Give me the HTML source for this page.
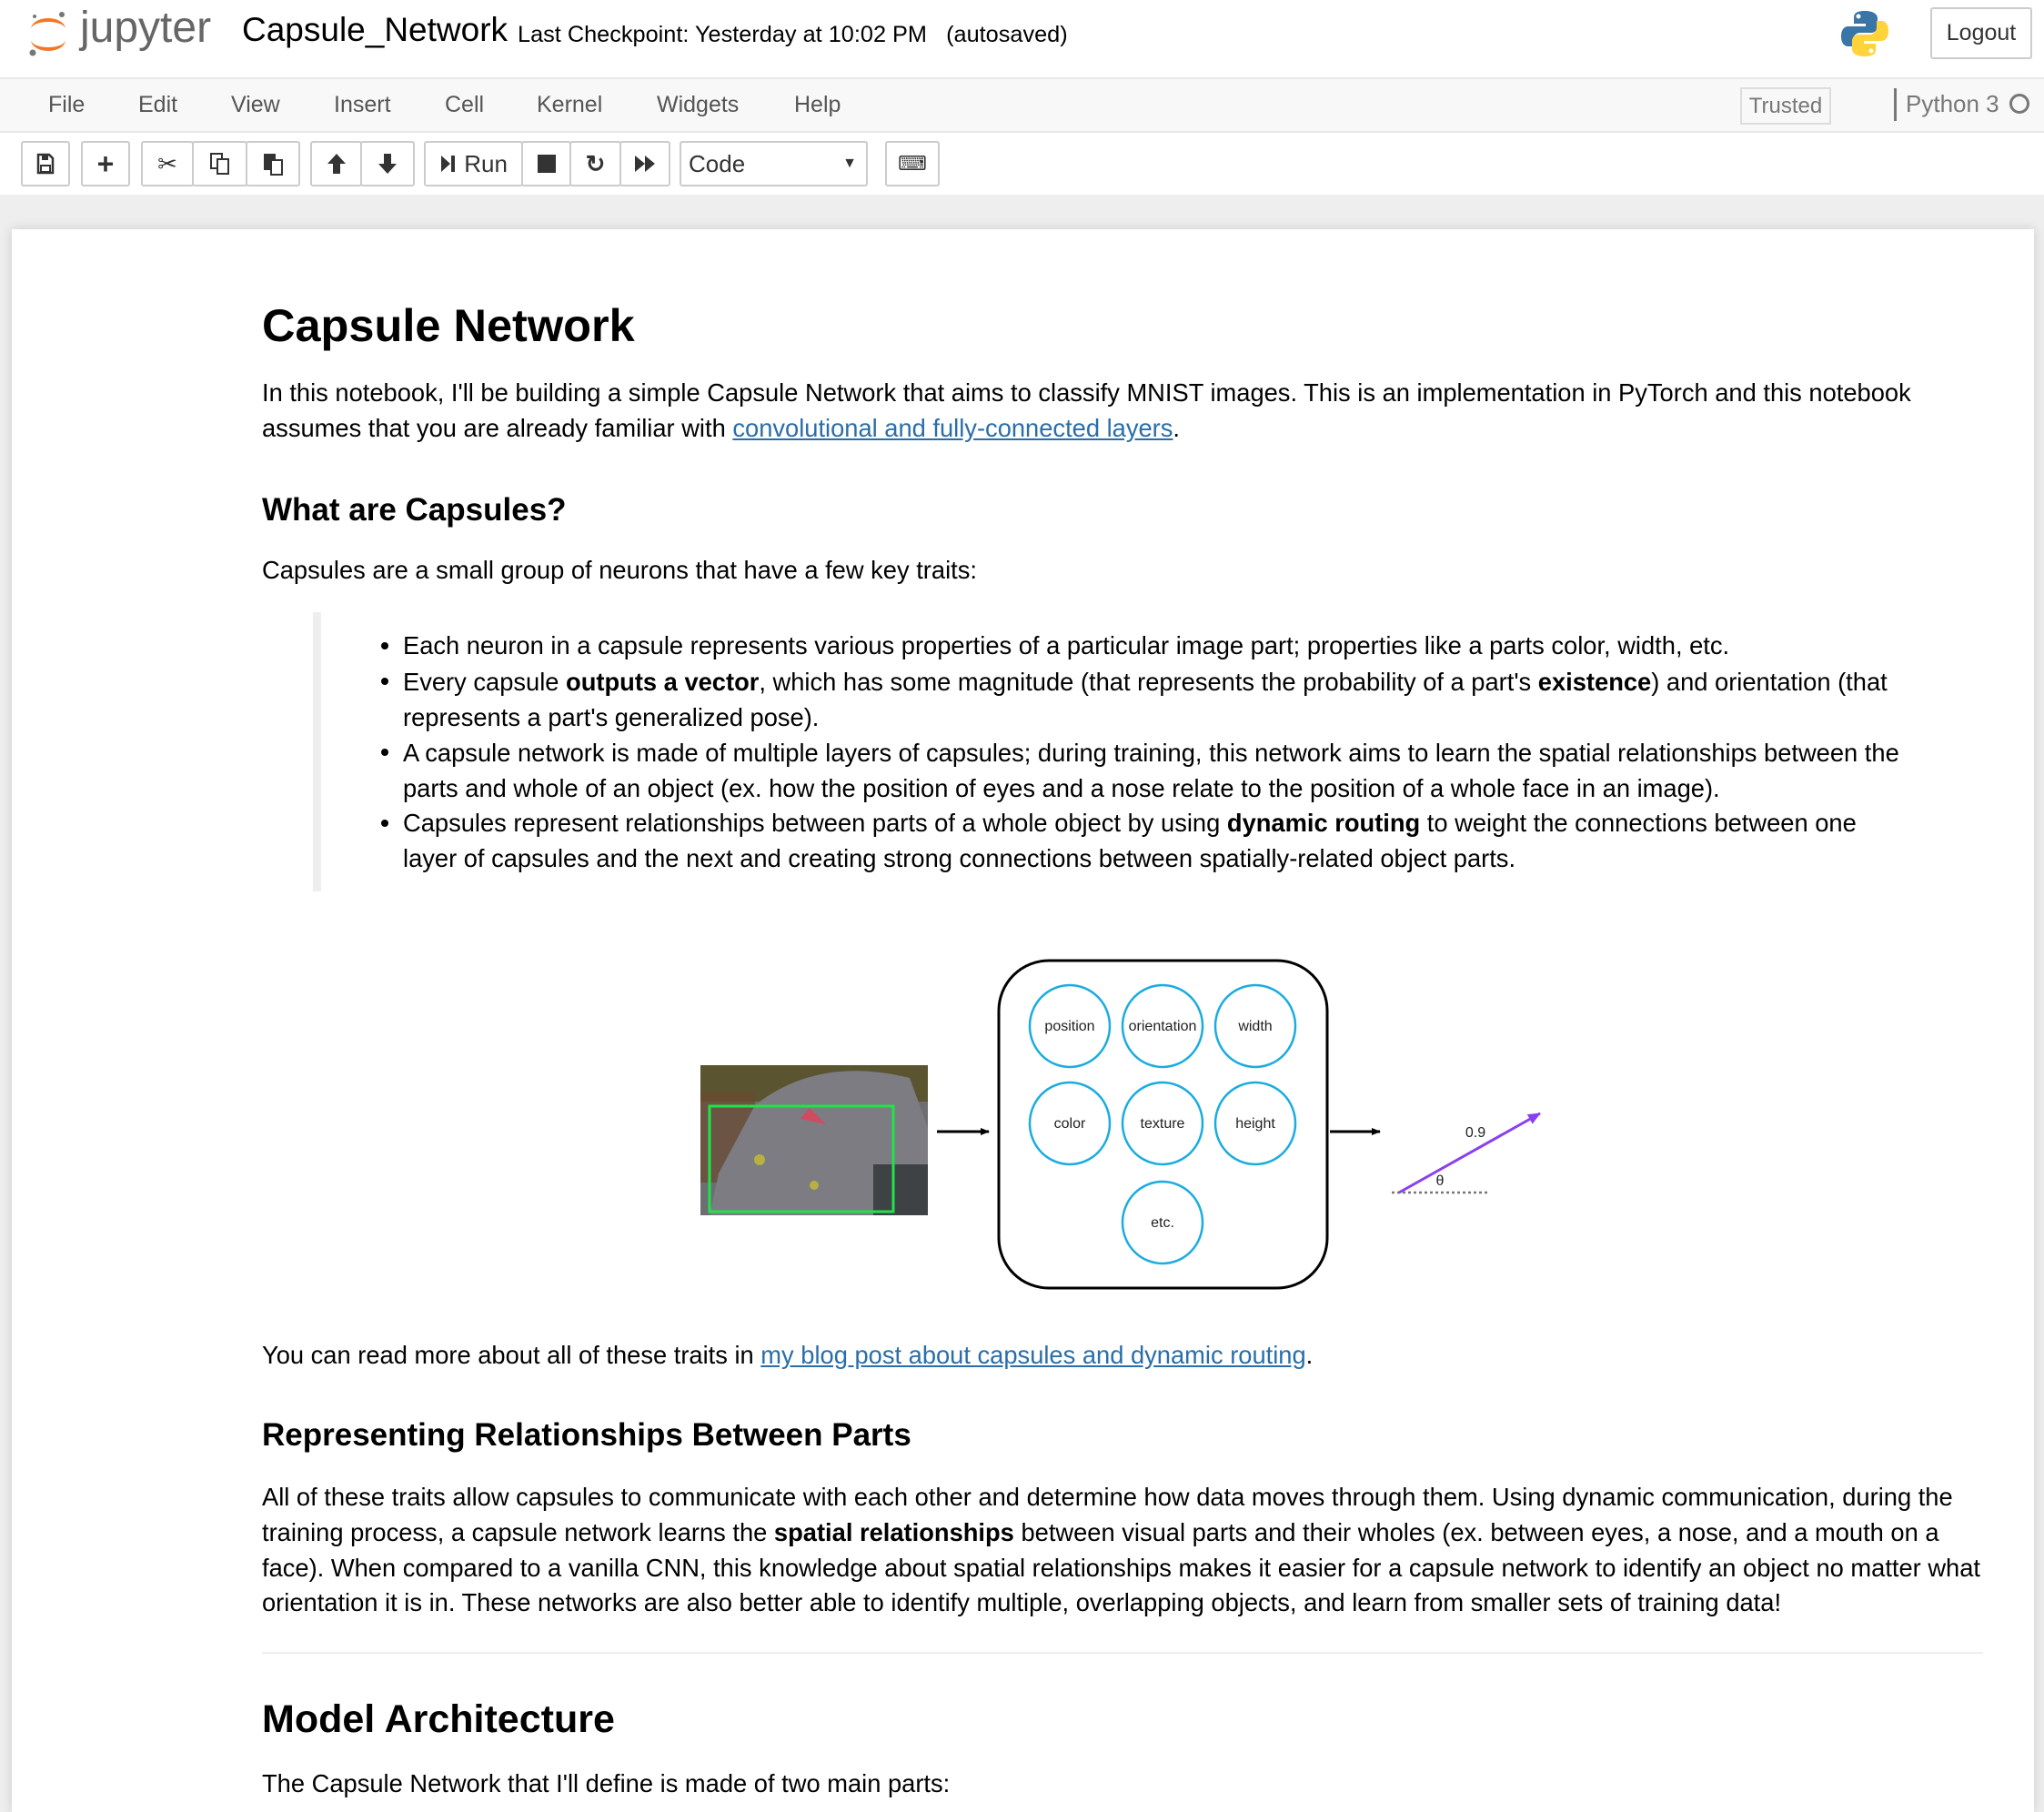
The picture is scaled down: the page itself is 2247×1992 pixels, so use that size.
<!DOCTYPE html>
<html><head><meta charset="utf-8">
<style>
*{box-sizing:border-box;margin:0;padding:0}
body{width:2247px;height:1984px;overflow:hidden;background:#eee;font-family:"Liberation Sans",Arial,sans-serif;color:#000;position:relative}
.abs{position:absolute;white-space:nowrap}
#hdr{position:absolute;left:0;top:0;width:2247px;height:85px;background:#fff}
#menu{position:absolute;left:0;top:85px;width:2247px;height:61px;background:#f8f8f8;border-top:2px solid #e7e7e7;border-bottom:2px solid #e7e7e7}
#tb{position:absolute;left:0;top:146px;width:2247px;height:68px;background:#fff}
.m{position:absolute;top:14px;font-size:25px;color:#555}
.btn{position:absolute;top:155px;height:50px;border:2px solid #ccc;border-radius:3px;background:#fff;display:flex;align-items:center;justify-content:center;font-size:26px;color:#333}
#nb{position:absolute;left:13px;top:252px;width:2223px;height:1740px;background:#fff;box-shadow:0 0 12px rgba(0,0,0,.15)}
.t{position:absolute;left:288px;white-space:nowrap;font-size:27.3px;line-height:39px}
.b{position:absolute;left:443px;white-space:nowrap;font-size:27.3px;line-height:39px}
.dot{position:absolute;left:419px;width:8px;height:8px;border-radius:50%;background:#000}
a{color:#296eaa;text-decoration:underline}
h1,h2{position:absolute;left:288px;white-space:nowrap;font-weight:bold}
h1{font-size:50.5px}
h2{font-size:35px}
</style></head><body>
<div id="hdr">
 <svg class="abs" style="left:30px;top:10px" width="46" height="54" viewBox="0 0 46 54">
  <path d="M4 22 A19 12 0 0 1 42 22 A19 8 0 0 0 4 22Z" fill="#f37726"/>
  <path d="M4 34 A19 12 0 0 0 42 34 A19 8 0 0 1 4 34Z" fill="#f37726"/>
  <circle cx="38" cy="6" r="3" fill="#767677"/><circle cx="6" cy="48" r="3.5" fill="#767677"/><circle cx="8" cy="8" r="2" fill="#767677"/>
 </svg>
 <div class="abs" style="left:88px;top:3px;font-size:48px;color:#666">jupyter</div>
 <div class="abs" style="left:266px;top:12px;font-size:37px">Capsule_Network</div>
 <div class="abs" style="left:569px;top:24px;font-size:25.3px">Last Checkpoint: Yesterday at 10:02 PM &nbsp; (autosaved)</div>
 <svg class="abs" style="left:2023px;top:10px" width="54" height="54" viewBox="0 0 54 54">
  <path d="M27 2c-12 0-12 5-12 8v6h13v3H9c-5 0-8 4-8 11s3 11 8 11h5v-7c0-5 4-8 8-8h12c4 0 7-3 7-7V10c0-4-4-8-14-8z" fill="#3a75a8"/>
  <path d="M27 52c12 0 12-5 12-8v-6H26v-3h19c5 0 8-4 8-11s-3-11-8-11h-5v7c0 5-4 8-8 8H20c-4 0-7 3-7 7v9c0 4 4 8 14 8z" fill="#ffd43b"/>
  <circle cx="20" cy="8" r="2.5" fill="#fff"/><circle cx="34" cy="46" r="2.5" fill="#fff"/>
 </svg>
 <div class="abs" style="left:2122px;top:8px;width:112px;height:57px;border:2px solid #ccc;border-radius:3px;font-size:25px;color:#333;display:flex;align-items:center;justify-content:center">Logout</div>
</div>
<div id="menu">
 <div class="m" style="left:53px">File</div><div class="m" style="left:152px">Edit</div><div class="m" style="left:254px">View</div><div class="m" style="left:367px">Insert</div><div class="m" style="left:489px">Cell</div><div class="m" style="left:590px">Kernel</div><div class="m" style="left:722px">Widgets</div><div class="m" style="left:873px">Help</div>
 <div class="abs" style="left:1913px;top:9px;width:100px;height:41px;border:2px solid #ddd;font-size:24px;color:#777;display:flex;align-items:center;justify-content:center">Trusted</div>
 <div class="abs" style="left:2082px;top:10px;width:3px;height:36px;background:#777"></div>
 <div class="m" style="left:2095px;top:12px;font-size:26px;color:#777">Python 3</div>
 <div class="abs" style="left:2209px;top:16px;width:22px;height:22px;border:3px solid #777;border-radius:50%"></div>
</div>
<div id="tb"></div>
<div class="btn" style="left:23px;width:54px"><svg width="20" height="24"><path d="M2 2h12l4 4v16H2z" fill="none" stroke="#333" stroke-width="2.5"/><rect x="6" y="2" width="7" height="6" fill="#333"/><rect x="5" y="14" width="10" height="7" fill="none" stroke="#333" stroke-width="2"/></svg></div>
<div class="btn" style="left:89px;width:54px;font-weight:bold;font-size:32px">+</div>
<div class="btn" style="left:155px;width:58px">✂</div>
<div class="btn" style="left:211px;width:61px"><svg width="24" height="26"><rect x="2" y="2" width="12" height="16" fill="#fff" stroke="#333" stroke-width="2"/><rect x="9" y="8" width="12" height="16" fill="#fff" stroke="#333" stroke-width="2"/></svg></div>
<div class="btn" style="left:270px;width:60px"><svg width="24" height="26"><rect x="2" y="2" width="13" height="18" fill="#333"/><rect x="10" y="9" width="12" height="16" fill="#fff" stroke="#333" stroke-width="2"/></svg></div>
<div class="btn" style="left:341px;width:57px"><svg width="24" height="26"><path d="M12 2L2 13h6v11h8V13h6z" fill="#333"/></svg></div>
<div class="btn" style="left:396px;width:60px"><svg width="24" height="26"><path d="M12 24L2 13h6V2h8v11h6z" fill="#333"/></svg></div>
<div class="btn" style="left:466px;width:109px"><svg width="20" height="22"><path d="M2 2l10 9-10 9z" fill="#333"/><rect x="13" y="2" width="4" height="18" fill="#333"/></svg>&nbsp;Run</div>
<div class="btn" style="left:573px;width:55px"><svg width="22" height="22"><rect x="1" y="1" width="20" height="20" fill="#333"/></svg></div>
<div class="btn" style="left:626px;width:57px;font-weight:bold">↻</div>
<div class="btn" style="left:681px;width:56px"><svg width="26" height="22"><path d="M2 2l11 9-11 9zM13 2l11 9-11 9z" fill="#333"/></svg></div>
<div class="btn" style="left:747px;width:207px;justify-content:space-between;padding:0 10px 0 8px"><span>Code</span><span style="font-size:16px">▼</span></div>
<div class="btn" style="left:973px;width:60px;font-size:22px">⌨</div>

<div id="nb"></div>
<h1 style="top:328px">Capsule Network</h1>
<div class="t" style="top:412px">In this notebook, I'll be building a simple Capsule Network that aims to classify MNIST images. This is an implementation in PyTorch and this notebook</div>
<div class="t" style="top:451px">assumes that you are already familiar with <a>convolutional and fully-connected layers</a>.</div>
<h2 style="top:541px">What are Capsules?</h2>
<div class="t" style="top:607px">Capsules are a small group of neurons that have a few key traits:</div>
<div class="abs" style="left:344px;top:673px;width:9px;height:307px;background:#eee"></div>
<div class="dot" style="top:706px"></div><div class="b" style="top:690px">Each neuron in a capsule represents various properties of a particular image part; properties like a parts color, width, etc.</div>
<div class="dot" style="top:745px"></div><div class="b" style="top:730px">Every capsule <b>outputs a vector</b>, which has some magnitude (that represents the probability of a part's <b>existence</b>) and orientation (that</div>
<div class="b" style="top:769px">represents a part's generalized pose).</div>
<div class="dot" style="top:823px"></div><div class="b" style="top:808px">A capsule network is made of multiple layers of capsules; during training, this network aims to learn the spatial relationships between the</div>
<div class="b" style="top:847px">parts and whole of an object (ex. how the position of eyes and a nose relate to the position of a whole face in an image).</div>
<div class="dot" style="top:901px"></div><div class="b" style="top:885px">Capsules represent relationships between parts of a whole object by using <b>dynamic routing</b> to weight the connections between one</div>
<div class="b" style="top:924px">layer of capsules and the next and creating strong connections between spatially-related object parts.</div>

<svg class="abs" style="left:0;top:0" width="2247" height="1984" viewBox="0 0 2247 1984">
 <defs>
  <marker id="ah" markerUnits="userSpaceOnUse" markerWidth="10" markerHeight="10" refX="9" refY="5" orient="auto"><path d="M0 1L10 5L0 9Z" fill="#000"/></marker>
  <marker id="ap" markerUnits="userSpaceOnUse" markerWidth="14" markerHeight="14" refX="13" refY="7" orient="auto"><path d="M0 1L14 7L0 13Z" fill="#8a3ff0"/></marker>
 </defs>
 <rect x="770" y="1171" width="250" height="165" fill="#6e6d72"/>
 <rect x="770" y="1171" width="250" height="40" fill="#5a5530"/>
 <rect x="770" y="1200" width="60" height="100" fill="#6a4a30" opacity=".7"/>
 <path d="M830 1215 Q900 1160 1000 1185 L1020 1240 L1020 1336 L780 1336 L790 1290 Z" fill="#7d7c82"/>
 <rect x="960" y="1280" width="60" height="56" fill="#3f4245"/>
 <path d="M880 1230 l10 -12 l18 18 z" fill="#d04a60"/>
 <circle cx="835" cy="1275" r="6" fill="#b8b040"/><circle cx="895" cy="1303" r="5" fill="#b8b040"/>
 <rect x="780" y="1216" width="202" height="116" fill="none" stroke="#1fe34a" stroke-width="3"/>
 <line x1="1030" y1="1244" x2="1087" y2="1244" stroke="#000" stroke-width="3" marker-end="url(#ah)"/>
 <rect x="1098" y="1056" width="361" height="360" rx="55" fill="#fff" stroke="#000" stroke-width="3"/>
 <g fill="#fff" stroke="#1aace0" stroke-width="2.5">
  <ellipse cx="1176" cy="1128" rx="44" ry="45"/><ellipse cx="1278" cy="1128" rx="44" ry="45"/><ellipse cx="1380" cy="1128" rx="44" ry="45"/>
  <ellipse cx="1176" cy="1235" rx="44" ry="45"/><ellipse cx="1278" cy="1235" rx="44" ry="45"/><ellipse cx="1380" cy="1235" rx="44" ry="45"/>
  <ellipse cx="1278" cy="1344" rx="44" ry="45"/>
 </g>
 <g font-family="Liberation Sans, sans-serif" font-size="16" fill="#222" text-anchor="middle">
  <text x="1176" y="1133">position</text><text x="1278" y="1133">orientation</text><text x="1380" y="1133">width</text>
  <text x="1176" y="1240">color</text><text x="1278" y="1240">texture</text><text x="1380" y="1240">height</text>
  <text x="1278" y="1349">etc.</text>
  <text x="1622" y="1250">0.9</text><text x="1583" y="1303">θ</text>
 </g>
 <line x1="1462" y1="1244" x2="1517" y2="1244" stroke="#000" stroke-width="3" marker-end="url(#ah)"/>
 <line x1="1530" y1="1311" x2="1638" y2="1311" stroke="#777" stroke-width="2.5" stroke-dasharray="3 3"/>
 <line x1="1538" y1="1311" x2="1693" y2="1224" stroke="#8a3ff0" stroke-width="3" marker-end="url(#ap)"/>
</svg>

<div class="t" style="top:1470px">You can read more about all of these traits in <a>my blog post about capsules and dynamic routing</a>.</div>
<h2 style="top:1558px">Representing Relationships Between Parts</h2>
<div class="t" style="top:1626px">All of these traits allow capsules to communicate with each other and determine how data moves through them. Using dynamic communication, during the</div>
<div class="t" style="top:1665px">training process, a capsule network learns the <b>spatial relationships</b> between visual parts and their wholes (ex. between eyes, a nose, and a mouth on a</div>
<div class="t" style="top:1704px">face). When compared to a vanilla CNN, this knowledge about spatial relationships makes it easier for a capsule network to identify an object no matter what</div>
<div class="t" style="top:1742px">orientation it is in. These networks are also better able to identify multiple, overlapping objects, and learn from smaller sets of training data!</div>
<div class="abs" style="left:288px;top:1816px;width:1892px;height:2px;background:#eee"></div>
<h1 style="top:1866px;font-size:43px">Model Architecture</h1>
<div class="t" style="top:1941px">The Capsule Network that I'll define is made of two main parts:</div>
</body></html>
